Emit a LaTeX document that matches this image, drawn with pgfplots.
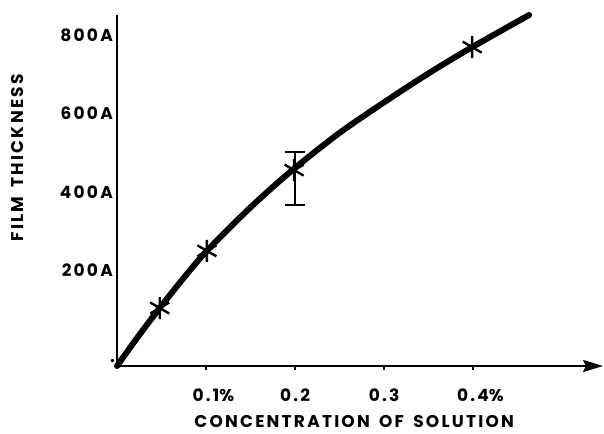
\documentclass[border=0pt]{standalone}
\usepackage{pgfplots}
\pgfplotsset{compat=1.18}
\usepackage{fontspec}
\setmainfont{Poppins}[LetterSpace=13, WordSpace=1.6]
\usetikzlibrary{arrows.meta}
\newcommand{\lab}{\bfseries\fontsize{17bp}{17bp}\selectfont}
\begin{document}
\begin{tikzpicture}[x=1bp,y=1bp]
\useasboundingbox (0,0) rectangle (604,434);
\begin{axis}[
  at={(117bp,68bp)}, anchor=south west,
  scale only axis, width=486bp, height=351bp,
  xmin=0, xmax=0.546, ymin=-45, ymax=851,
  clip=false,
  axis lines=left,
  axis line style={line width=2.2bp, black},
  x axis line style={-{Stealth[length=20bp,width=12bp,inset=3bp]}},
  y axis line style={-},
  xtick={0.1,0.2,0.3,0.4},
  xticklabels={0.1\rlap{\%},0.2,0.3,0.4\rlap{\%}},
  ytick={200,400,600,800},
  yticklabels={200A,400A,600A,800A},
  extra y ticks={-32}, extra y tick labels={.},
  tick align=outside,
  major tick length=4bp,
  x tick style={line width=1.5bp, black},
  y tick style={draw=none},
  xticklabel style={font=\lab, anchor=center, yshift=-25bp},
  yticklabel style={font=\lab, anchor=east, inner sep=0pt, xshift=0bp},
  extra y tick style={yticklabel style={xshift=2bp}},
  xlabel={CONCENTRATION OF SOLUTION},
  ylabel={FILM THICKNESS},
  xlabel style={font=\lab, inner sep=1bp, at={(rel axis cs:0.488,-0.158)}, anchor=center},
  ylabel style={font=\lab, inner sep=1bp, at={(rel axis cs:-0.204,0.593)}, anchor=center},
]
\addplot[black, line width=6bp, smooth, line cap=round] coordinates {
(0,-45) (0.024,31) (0.048,103) (0.075,180) (0.101,249) (0.15,360) (0.197,455)
(0.25,550) (0.3,628) (0.35,702) (0.399,769) (0.463,851)};
\addplot[black, only marks, mark=asterisk, mark size=11bp, mark options={line width=2.4bp}] coordinates {
(0.048,103) (0.101,249) (0.199,455) (0.399,769)};
\addplot[black, mark=none, error bars/.cd, y dir=both, y explicit,
  error bar style={line width=2bp, black},
  error mark=-,
  error mark options={rotate=90, mark size=10bp, line width=2bp, black}] coordinates {(0.2,433.5) +- (0,67.5)};
\end{axis}
\end{tikzpicture}
\end{document}
